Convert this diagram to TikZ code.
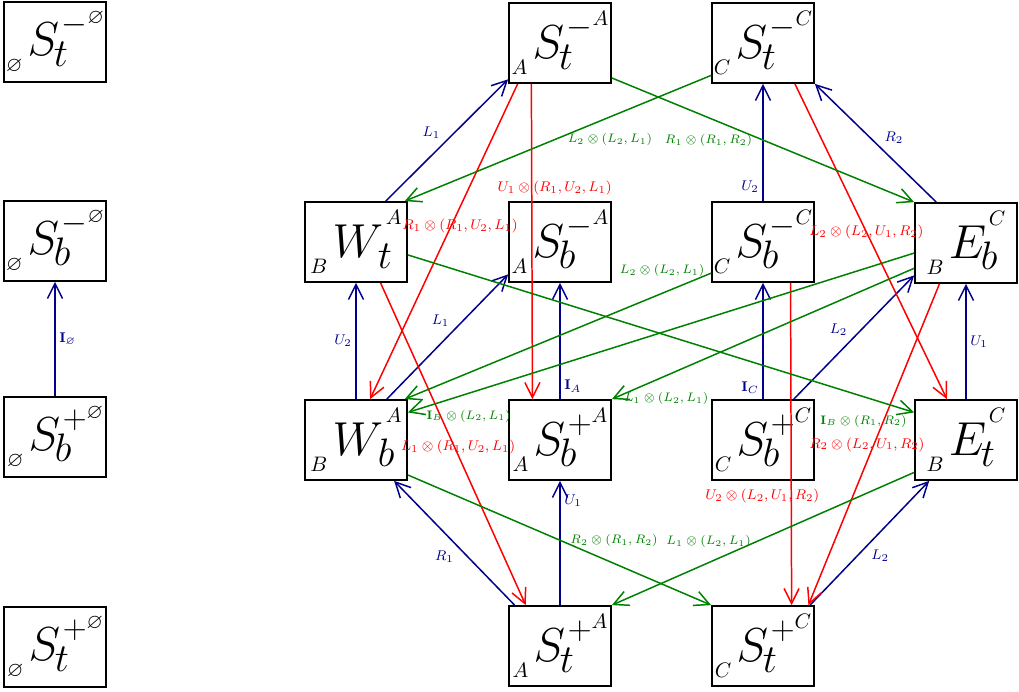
\documentclass[tikz,border=0pt]{standalone}
\usepackage{amssymb}
\usepackage{graphicx}
\usetikzlibrary{arrows.meta}

\definecolor{navyblue}{RGB}{0,0,139}
\definecolor{darkgreen}{RGB}{0,128,0}

% cell text: left index, letter, sub, sign, right index
\newcommand{\cornerfont}{\fontsize{10.95}{12}\selectfont}
\newcommand{\tcell}[5]{\scalebox{1.09}{$\raisebox{-8.5pt}{\cornerfont$#1$}\mkern2mu#2\mkern-2mu\rlap{\raisebox{-5.7pt}{$\scriptstyle#3$}}\mkern3mu\raisebox{11.3pt}{\LARGE${#4}$}\raisebox{16.8pt}{\cornerfont$#5$}$}}

\begin{document}
\begin{tikzpicture}[x=0.02cm, y=-0.02cm,
    cellbox/.style={draw, line width=1pt, minimum width=2.04cm, minimum height=1.6cm, inner sep=0pt, font=\Huge},
    conn/.style={line width=0.85pt, -{Straight Barb[length=3mm,width=3mm]}},
    bl/.style={conn, navyblue},
    rd/.style={conn, red},
    gr/.style={conn, darkgreen},
    lbl/.style={font=\footnotesize, inner sep=2pt},
    glbl/.style={font=\scriptsize, inner sep=2pt}]
    \useasboundingbox (0,0) rectangle (1019,692);

    % Draw the empty-set column
    \node[cellbox] (Stm0) at (55,42) {\tcell{\varnothing}{S}{t}{-}{\varnothing}};
    \node[cellbox] (Sbm0) at (55,241) {\tcell{\varnothing}{S}{b}{-}{\varnothing}};
    \node[cellbox] (Sbp0) at (55,437) {\tcell{\varnothing}{S}{b}{+}{\varnothing}};
    \node[cellbox] (Stp0) at (55,647) {\tcell{\varnothing}{S}{t}{+}{\varnothing}};

    % Draw the lattice
    \node[cellbox] (StmA) at (560,43) {\tcell{A}{S}{t}{-}{A}};
    \node[cellbox] (StmC) at (763,43) {\tcell{C}{S}{t}{-}{C}};
    \node[cellbox] (Wt) at (356,242) {\tcell{B}{W}{t}{}{A}};
    \node[cellbox] (SbmA) at (560,242) {\tcell{A}{S}{b}{-}{A}};
    \node[cellbox] (SbmC) at (763,242) {\tcell{C}{S}{b}{-}{C}};
    \node[cellbox] (Eb) at (966,243) {\tcell{B}{E}{b}{}{C}};
    \node[cellbox] (Wb) at (356,440) {\tcell{B}{W}{b}{}{A}};
    \node[cellbox] (SbpA) at (560,440) {\tcell{A}{S}{b}{+}{A}};
    \node[cellbox] (SbpC) at (763,440) {\tcell{C}{S}{b}{+}{C}};
    \node[cellbox] (Et) at (966,440) {\tcell{B}{E}{t}{}{C}};
    \node[cellbox] (StpA) at (560,646) {\tcell{A}{S}{t}{+}{A}};
    \node[cellbox] (StpC) at (763,646) {\tcell{C}{S}{t}{+}{C}};

    % Blue moves
    \draw[bl] (Sbp0) -- node[lbl, right] (lI0) {$\mathbf{I}_\varnothing$} (Sbm0);
    \draw[bl] (Wt.54) -- node[lbl, pos=0.48, above left] (lL1a) {$L_1$} (StmA.215);
    \draw[bl] (SbmC) -- node[lbl, pos=0.12, left] (lU2a) {$U_2$} (StmC);
    \draw[bl] (Eb.126) -- node[lbl, pos=0.46, above right] (lR2a) {$R_2$} (StmC.south east);
    \draw[bl] (Wb) -- node[lbl, left] (lU2b) {$U_2$} (Wt);
    \draw[bl] (Wb.53) -- node[lbl, pos=0.55, above left] (lL1b) {$L_1$} (SbmA.212);
    \draw[bl] (SbpA) -- node[lbl, pos=0.11, right] (lIA) {$\mathbf{I}_A$} (SbmA);
    \draw[bl] (SbpC) -- node[lbl, pos=0.1, left] (lIC) {$\mathbf{I}_C$} (SbmC);
    \draw[bl] (SbpC.53) -- node[lbl, pos=0.48, above left] (lL2a) {$L_2$} (Eb.212);
    \draw[bl] (Et) -- node[lbl, right] (lU1a) {$U_1$} (Eb);
    \draw[bl] (StpA.138) -- node[lbl, pos=0.47, below left] (lR1a) {$R_1$} (Wb.-47);
    \draw[bl] (StpA) -- node[lbl, pos=0.84, right] (lU1b) {$U_1$} (SbpA);
    \draw[bl] (StpC.41) -- node[lbl, pos=0.48, below right] (lL2b) {$L_2$} (Et.228);

    % Red moves
    \draw[rd] (StmA.235.5) -- node[lbl, pos=0.33, xshift=0.46cm] (lrU1) {$U_1\otimes(R_1,U_2,L_1)$} (SbpA.124.5);
    \draw[rd] (StmA.224) -- node[lbl, pos=0.45, xshift=5pt] (lrR1) {$R_1\otimes(R_1,U_2,L_1)$} (Wb.71);
    \draw[rd] (Wt.-59) -- node[lbl, pos=0.51, xshift=2pt] (lrL1) {$L_1\otimes(R_1,U_2,L_1)$} (StpA.130);
    \draw[rd] (StmC.-52) -- node[lbl, pos=0.47] (lrL2) {$L_2\otimes(L_2,U_1,R_2)$} (Et.115);
    \draw[rd] (SbmC.-56) -- node[lbl, pos=0.66, xshift=-0.58cm] (lrU2) {$U_2\otimes(L_2,U_1,R_2)$} (StpC.55);
    \draw[rd] (Eb.237) -- node[lbl, pos=0.5, xshift=-4pt] (lrR2) {$R_2\otimes(L_2,U_1,R_2)$} (StpC.42);

    % Green moves
    \draw[gr] (StmC.212) -- node[glbl, pos=0.33, below=7pt] (lgL2a) {$L_2\otimes(L_2,L_1)$} (Wt.40);
    \draw[gr] (StmA.326) -- node[glbl, pos=0.32, below=7pt] (lgR1) {$R_1\otimes(R_1,R_2)$} (Eb.north west);
    \draw[gr] (Wt.-14) -- node[glbl, pos=0.9, below=8pt] (lgIBa) {$\mathbf{I}_B\otimes(R_1,R_2)$} (Et.152);
    \draw[gr] (SbmC.211) -- node[glbl, pos=0.16, above=7pt] (lgL2b) {$L_2\otimes(L_2,L_1)$} (Wb.40);
    \draw[gr] (Eb.191) -- node[glbl, pos=0.88, below=7pt] (lgIBb) {$\mathbf{I}_B\otimes(L_2,L_1)$} (Wb.28);
    \draw[gr] (Eb.206) -- node[glbl, pos=0.82, below=7pt] (lgL1a) {$L_1\otimes(L_2,L_1)$} (SbpA.north east);
    \draw[gr] (Wb.-34) -- node[glbl, pos=0.68, above=7pt] (lgR2) {$R_2\otimes(R_1,R_2)$} (StpC.north west);
    \draw[gr] (Et.212) -- node[glbl, pos=0.68, above=6pt] (lgL1b) {$L_1\otimes(L_2,L_1)$} (StpA.north east);
\end{tikzpicture}
\end{document}
